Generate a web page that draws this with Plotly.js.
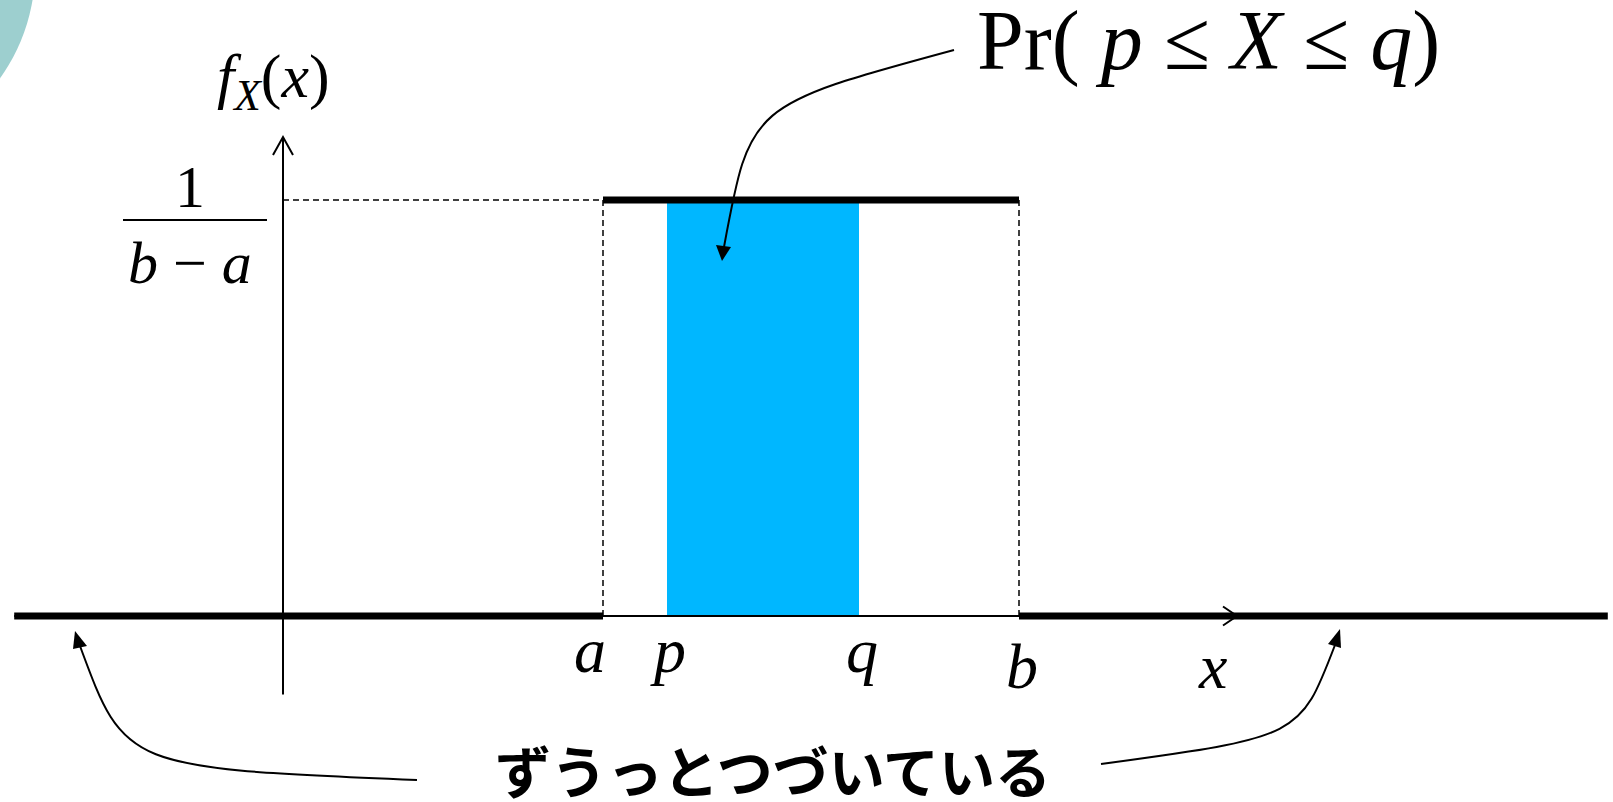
<!DOCTYPE html>
<html>
<head>
<meta charset="utf-8">
<script src="https://cdn.plot.ly/plotly-3.0.1.min.js"></script>
<style>html,body{margin:0;padding:0;background:#fff;}#chart{width:1613px;height:802px;}</style>
</head>
<body>
<div id="chart"></div>
<script>
// ---- data ----
const boundA = 5;          // a
const boundB = 11.5;       // b
const shadeP = 6;          // p
const shadeQ = 9;          // q
const density = 1 / (boundB - boundA);   // 1/(b-a)
const lineStart = -4.2;    // support drawn from here
const lineEnd = 20.7;      // ... to here
const xAxisEnd = 14.9;     // arrow tip of x axis
const yAxisBottom = -0.029;
const yAxisTop = 0.177;
const tickPositions = [boundA, shadeP, shadeQ, boundB];
const tickLabels = ['a', 'p', 'q', 'b'];
const titleText = 'Pr( <i>p</i> ≤ <i>X</i> ≤ <i>q</i>)';
const yLabelText = '<i>f</i><sub><i>X</i></sub>(<i>x</i>)';
const noteText = 'ずうっとつづいている';

// ---- scale helpers (page pixels <-> data) ----
const W = 1613, H = 802;
const originPx = 283, pxPerX = 64;
const zeroPy = 616, topPy = 200;
const pxPerY = (zeroPy - topPy) / density;
const X = px => (px - originPx) / pxPerX;
const Y = py => (zeroPy - py) / pxPerY;
const pt = (px, py) => X(px) + ',' + Y(py);

const serif = 'Liberation Serif';

const traces = [
  { // shaded probability region
    x: [shadeP, shadeQ, shadeQ, shadeP, shadeP],
    y: [0, 0, density, density, 0],
    fill: 'toself', fillcolor: '#00B7FF', mode: 'lines',
    line: {width: 0, color: '#00B7FF'}, hoverinfo: 'skip'
  },
  { // dashed guides
    x: [0, boundA, null, boundA, boundA, null, boundB, boundB],
    y: [density, density, null, 0, density, null, 0, density],
    mode: 'lines', line: {color: '#000', width: 1.5, dash: '6px,4px'}, hoverinfo: 'skip'
  },
  { // x axis
    x: [lineStart, xAxisEnd], y: [0, 0],
    mode: 'lines', line: {color: '#000', width: 2}, hoverinfo: 'skip'
  },
  { // y axis
    x: [0, 0], y: [yAxisBottom, yAxisTop],
    mode: 'lines', line: {color: '#000', width: 2}, hoverinfo: 'skip'
  },
  { // density function
    x: [lineStart, boundA, null, boundA, boundB, null, boundB, lineEnd],
    y: [0, 0, null, density, density, null, 0, 0],
    mode: 'lines', line: {color: '#000', width: 7}, hoverinfo: 'skip'
  }
];

const thin = {color: '#000', width: 2};
const shapes = [
  // decorative teal circle in the corner
  {type: 'circle', xref: 'x', yref: 'y', x0: X(-335), x1: X(35), y0: Y(-215), y1: Y(155),
   fillcolor: '#9DCFCF', line: {width: 0}, layer: 'below'},
  // axis arrow chevrons
  {type: 'path', path: 'M' + pt(1223, 606.5) + ' L' + pt(1237, 616) + ' L' + pt(1223, 625.5), line: thin},
  {type: 'path', path: 'M' + pt(273, 155) + ' L' + pt(283, 137) + ' L' + pt(293, 155), line: thin},
  // fraction bar
  {type: 'path', path: 'M' + pt(123, 220) + ' L' + pt(267, 220), line: thin},
  // curved callouts
  {type: 'path', path: 'M' + pt(954, 50) + ' C' + pt(750, 105) + ' ' + pt(750, 105) + ' ' + pt(724, 247), line: thin},
  {type: 'path', path: 'M' + pt(417, 780) + ' C' + pt(125, 768) + ' ' + pt(125, 768) + ' ' + pt(80, 646), line: thin},
  {type: 'path', path: 'M' + pt(1101, 764) + ' C' + pt(1300, 737) + ' ' + pt(1300, 737) + ' ' + pt(1335, 645), line: thin},
  // arrowheads
  {type: 'path', path: 'M' + pt(722, 261) + ' L' + pt(716, 245) + ' L' + pt(731, 247) + ' Z', fillcolor: '#000', line: {width: 0}},
  {type: 'path', path: 'M' + pt(75, 631) + ' L' + pt(73, 649) + ' L' + pt(87, 646) + ' Z', fillcolor: '#000', line: {width: 0}},
  {type: 'path', path: 'M' + pt(1340, 629) + ' L' + pt(1328, 644) + ' L' + pt(1341, 648) + ' Z', fillcolor: '#000', line: {width: 0}}
];

const annotations = [];
const tickBase = [650, 650, 650, 666];
const tickShift = [-13, 1, 3, 3];
tickPositions.forEach((v, i) => {
  annotations.push({x: v, y: Y(tickBase[i]), text: '<i>' + tickLabels[i] + '</i>', showarrow: false,
    xanchor: 'center', yanchor: 'middle', xshift: tickShift[i], font: {family: serif, size: 64, color: '#000'}});
});
annotations.push({x: X(1212), y: Y(666), text: '<i>x</i>', showarrow: false, xanchor: 'center', yanchor: 'middle',
  font: {family: serif, size: 64, color: '#000'}});
annotations.push({x: X(1208), y: Y(41), text: titleText, showarrow: false, xanchor: 'center', yanchor: 'middle',
  font: {family: serif, size: 84, color: '#000'}});
annotations.push({x: X(273), y: Y(80), text: yLabelText, showarrow: false, xanchor: 'center', yanchor: 'middle',
  font: {family: serif, size: 62, color: '#000'}});
annotations.push({x: X(190), y: Y(187), text: '1', showarrow: false, xanchor: 'center', yanchor: 'middle',
  font: {family: serif, size: 60, color: '#000'}});
annotations.push({x: X(190), y: Y(263), text: '<i>b</i> − <i>a</i>', showarrow: false, xanchor: 'center', yanchor: 'middle',
  font: {family: serif, size: 60, color: '#000'}});
annotations.push({x: X(773), y: Y(768), text: '<b>' + noteText + '</b>', showarrow: false, xanchor: 'center', yanchor: 'middle',
  font: {family: 'Noto Sans CJK JP', size: 56, color: '#000'}});

const layout = {
  width: W, height: H,
  margin: {l: 0, r: 0, t: 0, b: 0, pad: 0},
  paper_bgcolor: '#fff', plot_bgcolor: '#fff',
  showlegend: false,
  xaxis: {range: [X(0), X(W)], visible: false, fixedrange: true},
  yaxis: {range: [Y(H), Y(0)], visible: false, fixedrange: true},
  shapes: shapes,
  annotations: annotations
};

Plotly.newPlot('chart', traces, layout, {staticPlot: true, displayModeBar: false});
</script>
</body>
</html>
